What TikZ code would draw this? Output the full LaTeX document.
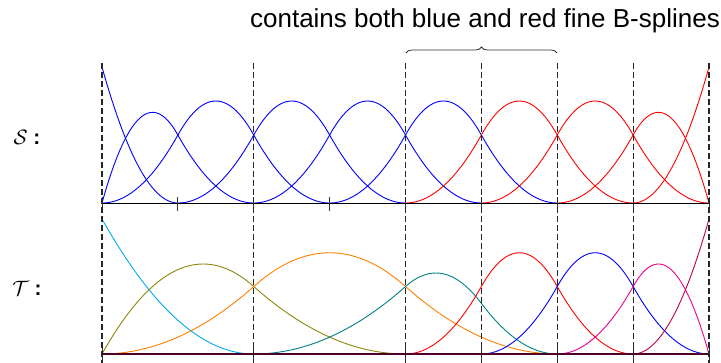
\documentclass[tikz,border=0pt]{standalone}
\usepackage{fontspec}
\setmainfont{Liberation Sans}
\usetikzlibrary{decorations.pathreplacing}
\definecolor{cyanB}{RGB}{0,174,239}
\definecolor{magB}{RGB}{236,0,140}
\definecolor{oliveB}{RGB}{140,135,10}
\definecolor{tealB}{RGB}{0,128,128}
\definecolor{purpB}{RGB}{191,0,64}
\definecolor{baseT}{RGB}{80,0,40}
\tikzset{
  curve/.style={line width=0.9pt},
  knotline/.style={black!85, line width=1.1pt, dash pattern=on 6pt off 3pt},
  tickmark/.style={black!80, line width=1pt},
  axisS/.style={black, line width=0.9pt},
  axisT/.style={baseT, line width=1.8pt},
}
\begin{document}
\begin{tikzpicture}[x=1pt,y=1pt,
  declare function={bq(\t)=(\t<0)?0:((\t<1)?(0.5*\t*\t):((\t<2)?(0.75-(\t-1.5)*(\t-1.5)):((\t<3)?(0.5*(3-\t)*(3-\t)):0)));}]
\useasboundingbox (0,0) rectangle (721,-362);

% title and brace
\coordinate (bl) at (406,-53);
\coordinate (br) at (557,-53);
\draw[black!80, line width=0.8pt, decorate, decoration={brace, amplitude=6pt}] (bl) -- (br);
\node[anchor=base, inner sep=0pt, font=\fontsize{26}{30}\selectfont] (title) at (485,-27) {contains both blue and red fine B-splines};

% labels
\node[inner sep=0pt, font=\fontsize{20.74}{24}\selectfont] (slab) at (27,-137) {$\mathcal{S}$\;\textbf{:}};
\node[inner sep=0pt, font=\fontsize{20.74}{24}\selectfont] (tlab) at (27,-288) {$\mathcal{T}$\;\textbf{:}};

% ---------------- S row ----------------
\begin{scope}[shift={(102pt,-203pt)}, x=75.875pt, y=136pt]
  \draw[curve, blue] plot[domain=0:1, samples=40] (\x,{(1-\x)*(1-\x)});
  \draw[curve, blue] plot[domain=0:2, samples=61] (\x,{(\x<1)?(2*\x-1.5*\x*\x):(0.5*(2-\x)*(2-\x))});
  \foreach \k in {0,1,2,3} {
    \draw[curve, blue] plot[domain=\k:\k+3, samples=91] (\x,{bq(\x-\k)});
  }
  \foreach \k in {4,5} {
    \draw[curve, red] plot[domain=\k:\k+3, samples=91] (\x,{bq(\x-\k)});
  }
  \draw[curve, red] plot[domain=6:8, samples=61] (\x,{(\x<7)?(0.5*(\x-6)*(\x-6)):(2*(8-\x)-1.5*(8-\x)*(8-\x))});
  \draw[curve, red] plot[domain=7:8, samples=40] (\x,{(\x-7)*(\x-7)});
  \coordinate (s0) at (0,0);
  \coordinate (s8) at (8,0);
  \draw[axisS] (s0) -- (s8);
  \foreach \k in {0,...,8} {
    \coordinate (sa\k) at (\k,0.045);
    \coordinate (sb\k) at (\k,-0.06);
    \draw[tickmark] (sa\k) -- (sb\k);
  }
  \foreach \k in {0,2,4,5,6,7,8} {
    \coordinate (sd\k) at (\k,1.03);
    \coordinate (se\k) at (\k,-0.1);
    \draw[knotline] (sd\k) -- (se\k);
  }
\end{scope}

% ---------------- T row ----------------
\begin{scope}[shift={(102pt,-354pt)}, x=75.875pt, y=135pt]
  \draw[curve, cyanB] plot[domain=0:2, samples=50] (\x,{(1-\x/2)*(1-\x/2)});
  \draw[curve, oliveB] plot[domain=0:4, samples=81] (\x,{(\x<2)?(\x-0.375*\x*\x):(0.5*(2-\x/2)*(2-\x/2))});
  \draw[curve, orange] plot[domain=0:6, samples=121] (\x,{bq(\x/2)});
  \draw[curve, tealB] plot[domain=2:6, samples=81] (\x,{0.25*bq(\x-2)+0.75*bq(\x-3)});
  \draw[curve, red] plot[domain=4:7, samples=91] (\x,{bq(\x-4)});
  \draw[curve, blue] plot[domain=5:8, samples=91] (\x,{bq(\x-5)});
  \draw[curve, magB] plot[domain=6:8, samples=61] (\x,{(\x<7)?(0.5*(\x-6)*(\x-6)):(2*(8-\x)-1.5*(8-\x)*(8-\x))});
  \draw[curve, purpB] plot[domain=7:8, samples=40] (\x,{(\x-7)*(\x-7)});
  \coordinate (t0) at (0,0);
  \coordinate (t8) at (8,0);
  \draw[axisT] (t0) -- (t8);
  \foreach \k in {0,2,4,5,6,7,8} {
    \coordinate (ta\k) at (\k,0.045);
    \coordinate (tb\k) at (\k,-0.06);
    \draw[tickmark] (ta\k) -- (tb\k);
    \coordinate (td\k) at (\k,1.02);
    \coordinate (te\k) at (\k,-0.07);
    \draw[knotline] (td\k) -- (te\k);
  }
\end{scope}
\end{tikzpicture}
\end{document}
